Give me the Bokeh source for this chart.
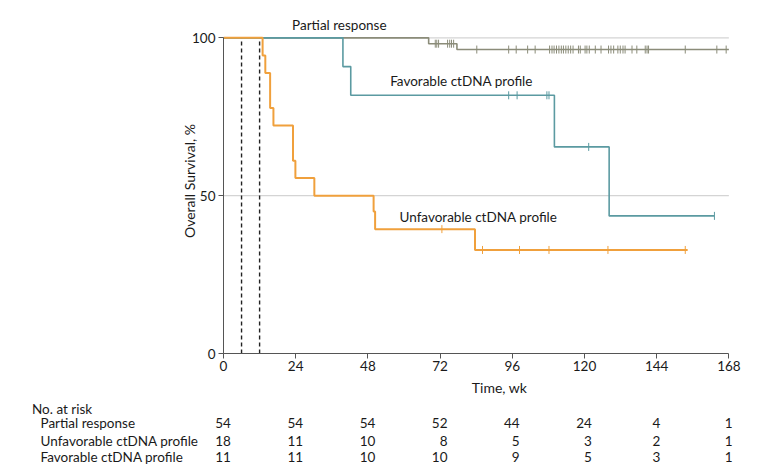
import numpy as np
from bokeh.plotting import figure
from bokeh.models import Range1d, Label, FixedTicker, ColumnDataSource
from bokeh.embed import file_html
from bokeh.resources import INLINE

FONT = "Lato"
FS = "13.5px"

# ---- data ----
# Partial response (gray)
pr_times = [0, 68.2, 77.6, 168]
pr_surv = [100, 98.15, 96.3, 96.3]
pr_cens_t1 = [70.4, 70.9, 71.5, 74.5, 75.2, 75.8, 76.5]
pr_cens_t2 = [84.2, 94.8, 97.3, 101.1, 103.6, 108.4, 109.2, 109.9, 110.7, 111.5,
              112.3, 113.0, 113.8, 114.6, 115.4, 116.2, 118.0, 118.6, 120.2, 120.8,
              121.6, 123.6, 125.5, 128.0, 128.8, 129.7, 131.1, 131.9, 132.8, 133.5,
              135.8, 137.4, 140.2, 140.8, 141.3, 153.5, 164.0, 167.1]

# Favorable ctDNA profile (teal)
fav_times = [0, 39.7, 42.3, 110.0, 128.2, 163.2]
fav_surv = [100, 90.9, 81.8, 65.45, 43.6, 43.6]
fav_cens_t = [94.8, 97.6, 107.5, 108.2, 121.4, 163.2]
fav_cens_s = [81.8, 81.8, 81.8, 81.8, 65.45, 43.6]

# Unfavorable ctDNA profile (orange)
unf_times = [0, 13.0, 13.9, 15.5, 16.6, 23.1, 23.9, 30.2, 49.9, 50.4, 83.6, 154.3]
unf_surv = [100, 94.4, 88.9, 77.8, 72.2, 61.1, 55.6, 50.0, 45.0, 39.4, 32.8, 32.8]
unf_cens_t = [72.6, 86.1, 98.4, 108.2, 127.8, 153.5]
unf_cens_s = [39.4, 32.8, 32.8, 32.8, 32.8, 32.8]

landmarks = [6, 12]

x_ticks = [0, 24, 48, 72, 96, 120, 144, 168]
y_ticks = [0, 50, 100]

risk_groups = ["Partial response", "Unfavorable ctDNA profile", "Favorable ctDNA profile"]
risk_pr = [54, 54, 54, 52, 44, 24, 4, 1]
risk_unf = [18, 11, 10, 8, 5, 3, 2, 1]
risk_fav = [11, 11, 10, 10, 9, 5, 3, 1]

GRAY = "#8b8c79"
TEAL = "#5b9aa1"
ORANGE = "#f0a03c"
TXT = "#1a1a1a"

PX_PER_WK = 552 / 183.5

p = figure(width=775, height=401, output_backend="svg", toolbar_location=None,
           x_range=Range1d(0, 183.5), y_range=Range1d(0, 109.3),
           min_border_left=223, min_border_right=0, min_border_top=8,
           min_border_bottom=48)
p.outline_line_color = None
p.grid.visible = False

# reference lines at 50 and 100
p.segment(x0=[0, 0], y0=[50, 100], x1=[168, 168], y1=[50, 100],
          line_color="#d4d4d4", line_width=1.2)

# landmark dashed lines
p.segment(x0=landmarks, y0=[0, 0], x1=landmarks, y1=[100, 100],
          line_color="#222222", line_width=1.4, line_dash="4 3")

p.step(pr_times, pr_surv, mode="after", line_color=GRAY, line_width=1.6)
p.step(fav_times, fav_surv, mode="after", line_color=TEAL, line_width=1.6)
p.step(unf_times, unf_surv, mode="after", line_color=ORANGE, line_width=2)

p.scatter(pr_cens_t1, [98.15] * len(pr_cens_t1), marker="dash", angle=np.pi / 2,
          size=8, line_color=GRAY, line_width=1)
p.scatter(pr_cens_t2, [96.3] * len(pr_cens_t2), marker="dash", angle=np.pi / 2,
          size=8, line_color=GRAY, line_width=1)
p.scatter(fav_cens_t, fav_cens_s, marker="dash", angle=np.pi / 2,
          size=8, line_color=TEAL, line_width=1)
p.scatter(unf_cens_t, unf_cens_s, marker="dash", angle=np.pi / 2,
          size=8, line_color=ORANGE, line_width=1)

# curve labels
for txt, x, y, al in [("Partial response", 38.5, 104.0, "center"),
                      ("Favorable ctDNA profile", 55.4, 86.4, "left"),
                      ("Unfavorable ctDNA profile", 58.5, 43.4, "left")]:
    p.add_layout(Label(x=x, y=y, text=txt, text_align=al, text_baseline="middle",
                       text_font=FONT, text_font_size=FS, text_color=TXT))

# axes
for ax in (p.xaxis[0], p.yaxis[0]):
    ax.axis_line_color = "#555555"
    ax.major_tick_line_color = "#555555"
    ax.major_tick_in = 0
    ax.major_tick_out = 5
    ax.minor_tick_line_color = None
    ax.major_label_text_font = FONT
    ax.major_label_text_font_size = FS
    ax.major_label_text_color = TXT
    ax.axis_label_text_font = FONT
    ax.axis_label_text_font_size = "14px"
    ax.axis_label_text_font_style = "normal"
    ax.axis_label_text_color = TXT

p.xaxis[0].ticker = FixedTicker(ticks=x_ticks)
p.xaxis[0].bounds = (0, 168)
p.xaxis[0].axis_label = "Time, wk"
p.xaxis[0].major_label_standoff = 2
p.xaxis[0].axis_label_standoff = 5
p.yaxis[0].ticker = FixedTicker(ticks=y_ticks)
p.yaxis[0].bounds = (0, 100)
p.yaxis[0].axis_label = "Overall Survival, %"
p.yaxis[0].major_label_standoff = 3
p.yaxis[0].axis_label_standoff = -9

# number at risk table: second figure with the same horizontal scale
left_wk = 223 / PX_PER_WK
t = figure(width=775, height=66, output_backend="svg", toolbar_location=None,
           x_range=Range1d(-left_wk, 183.5), y_range=Range1d(66, 0),
           x_axis_location=None, y_axis_location=None,
           min_border_left=0, min_border_right=0, min_border_top=0,
           min_border_bottom=0)
t.outline_line_color = None
t.grid.visible = False

row_y = [21.7, 39.0, 55.7]
t.text(x=[-191.5 / PX_PER_WK], y=[7.5], text=["No. at risk"], text_baseline="middle",
       text_font={"value": FONT}, text_font_size=FS, text_color=TXT)
t.text(x=[-183 / PX_PER_WK] * 3, y=row_y, text=risk_groups, text_baseline="middle",
       text_font={"value": FONT}, text_font_size=FS, text_color=TXT)

xs, ys, txts, offs = [], [], [], []
for col, tk in enumerate(x_ticks):
    vals = [risk_pr[col], risk_unf[col], risk_fav[col]]
    w = max(len(str(v)) for v in vals)
    for v, yy in zip(vals, row_y):
        xs.append(tk)
        ys.append(yy)
        txts.append(str(v))
        offs.append(w * 3.7)
src = ColumnDataSource(dict(x=xs, y=ys, text=txts, off=offs))
t.text(x="x", y="y", text="text", x_offset="off", source=src, text_align="right",
       text_baseline="middle", text_font={"value": FONT}, text_font_size=FS,
       text_color=TXT)

open("out.html", "w").write(file_html([p, t], INLINE))
